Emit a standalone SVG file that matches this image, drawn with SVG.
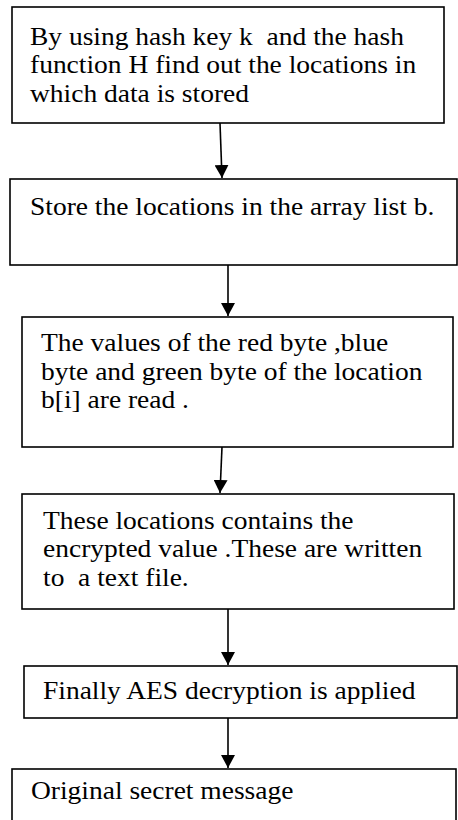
<svg xmlns="http://www.w3.org/2000/svg" width="458" height="820" viewBox="0 0 458 820" xml:space="preserve">
<defs>
<marker id="ah" markerWidth="14" markerHeight="14" refX="13" refY="7" orient="auto" markerUnits="userSpaceOnUse">
<path d="M0,0 L13,7 L0,14 Z" fill="#000"/>
</marker>
<style>
.box{fill:#fff;stroke:#000;stroke-width:1.6}
.t{font-family:"Liberation Serif","Times New Roman",serif;font-size:25.5px;fill:#000;white-space:pre}
.c{stroke:#000;stroke-width:1.6;fill:none}
</style>
</defs>
<rect width="458" height="820" fill="#fff"/>
<g id="n1">
<rect class="box" x="12" y="7" width="432" height="116"/>
<text class="t" transform="matrix(1.078 0 0 1 30 44.5)">By using hash key k  and the hash</text>
<text class="t" transform="matrix(1.078 0 0 1 30 73)">function H find out the locations in</text>
<text class="t" transform="matrix(1.078 0 0 1 30 101.5)">which data is stored</text>
</g>
<g id="n2">
<rect class="box" x="10" y="179" width="447" height="86"/>
<text class="t" transform="matrix(1.078 0 0 1 30 215)">Store the locations in the array list b.</text>
</g>
<g id="n3">
<rect class="box" x="22" y="317" width="431" height="130"/>
<text class="t" transform="matrix(1.078 0 0 1 41 351)">The values of the red byte ,blue</text>
<text class="t" transform="matrix(1.078 0 0 1 41 379.5)">byte and green byte of the location</text>
<text class="t" transform="matrix(1.078 0 0 1 41 408)">b[i] are read .</text>
</g>
<g id="n4">
<rect class="box" x="22" y="494" width="432" height="115"/>
<text class="t" transform="matrix(1.078 0 0 1 43 528.5)">These locations contains the</text>
<text class="t" transform="matrix(1.078 0 0 1 43 557)">encrypted value .These are written</text>
<text class="t" transform="matrix(1.078 0 0 1 43 585.5)">to  a text file.</text>
</g>
<g id="n5">
<rect class="box" x="24" y="666" width="433" height="52"/>
<text class="t" transform="matrix(1.078 0 0 1 43 698.5)">Finally AES decryption is applied</text>
</g>
<g id="n6">
<rect class="box" x="12" y="769" width="444" height="60"/>
<text class="t" transform="matrix(1.078 0 0 1 31 799)">Original secret message</text>
</g>
<g id="connectors">
<line class="c" x1="220" y1="123" x2="222" y2="178" marker-end="url(#ah)"/>
<line class="c" x1="228" y1="265" x2="228" y2="316" marker-end="url(#ah)"/>
<line class="c" x1="222" y1="447" x2="220" y2="493" marker-end="url(#ah)"/>
<line class="c" x1="228" y1="609" x2="228" y2="665" marker-end="url(#ah)"/>
<line class="c" x1="228" y1="718" x2="228" y2="768" marker-end="url(#ah)"/>
</g>
</svg>
